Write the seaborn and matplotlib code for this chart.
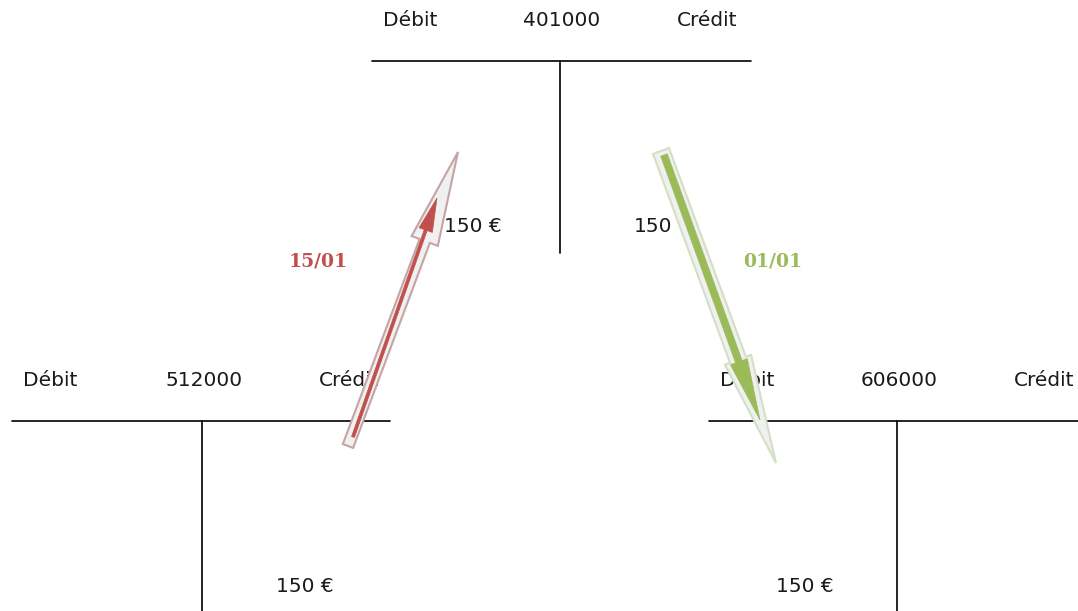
import matplotlib
matplotlib.use("Agg")
import matplotlib.pyplot as plt
from matplotlib.patches import FancyArrow
import seaborn as sns

# ─────────────────────────────────────────────
# Data
# ─────────────────────────────────────────────
accounts    = ["401000", "512000", "606000"]
side_labels = ["Débit", "Crédit"]
amounts     = ["150 €", "150 €", "150 €"]      # 401000 credit, 512000 credit, 606000 debit
top_amount_debit = "150"
dates       = ["15/01", "01/01"]

# ─────────────────────────────────────────────
# Layout (pixels, y down)
# ─────────────────────────────────────────────
W, H = 1078, 611
# (left, right, centre, line_y, bottom)
T_BOXES = {
    "401000": (372, 751, 560, 61, 253),
    "512000": (12, 390, 202, 421, 611),
    "606000": (709, 1078, 897, 421, 611),
}
RED   = "#c0504d"
GREEN = "#9bbb59"
TXT   = "#1a1a1a"
FS    = 14.5

sns.set_theme(style="white")
plt.rcParams["font.family"] = ["DejaVu Sans"]

fig = plt.figure(figsize=(W / 100, H / 100), dpi=100)
ax = fig.add_axes([0, 0, 1, 1])
ax.set_xlim(0, W)
ax.set_ylim(H, 0)
ax.axis("off")

# T accounts
for acc in accounts:
    left, right, cx, ly, bottom = T_BOXES[acc]
    ax.plot([left, right], [ly, ly], color="black", lw=1.2)
    ax.plot([cx, cx], [ly, bottom], color="black", lw=1.2)
    ty = ly - 40
    ax.text(cx + 2, ty, acc, ha="center", va="center", fontsize=FS, color=TXT)
    ax.text(left + 38, ty, side_labels[0], ha="center", va="center", fontsize=FS, color=TXT)
    ax.text(cx + 147, ty, side_labels[1], ha="center", va="center", fontsize=FS, color=TXT)

# amounts
ax.text(473, 226, amounts[0], ha="center", va="center", fontsize=FS, color=TXT)
ax.text(653, 226, top_amount_debit, ha="center", va="center", fontsize=FS, color=TXT)
ax.text(305, 586, amounts[1], ha="center", va="center", fontsize=FS, color=TXT)
ax.text(805, 586, amounts[2], ha="center", va="center", fontsize=FS, color=TXT)

# arrows: glow then coloured core
def arrow(x0, y0, x1, y1, **kw):
    ax.add_patch(FancyArrow(x0, y0, x1 - x0, y1 - y0, length_includes_head=True, **kw))

# red: 512000 -> 401000
arrow(348, 446, 458, 152, width=11, head_width=28, head_length=95,
      facecolor="#f0f0f0", edgecolor="#c4a4a4", lw=1.5, zorder=3)
arrow(353, 437, 437, 198, width=3, head_width=14, head_length=34,
      facecolor=RED, edgecolor=RED, lw=0.5, zorder=4)

# green: 401000 -> 606000
arrow(661, 151, 776, 463, width=17, head_width=28, head_length=110,
      facecolor="#f0f0f0", edgecolor="#d4e0c4", lw=1.5, zorder=3)
arrow(664, 155, 760, 420, width=7, head_width=18, head_length=62,
      facecolor=GREEN, edgecolor=GREEN, lw=0.5, zorder=4)

# dates
ax.text(318, 262, dates[0], ha="center", va="center", fontsize=13.5,
        fontweight="bold", family="DejaVu Serif", color=RED)
ax.text(773, 262, dates[1], ha="center", va="center", fontsize=13.5,
        fontweight="bold", family="DejaVu Serif", color=GREEN)

fig.savefig("out.png", dpi=100, facecolor="white")
